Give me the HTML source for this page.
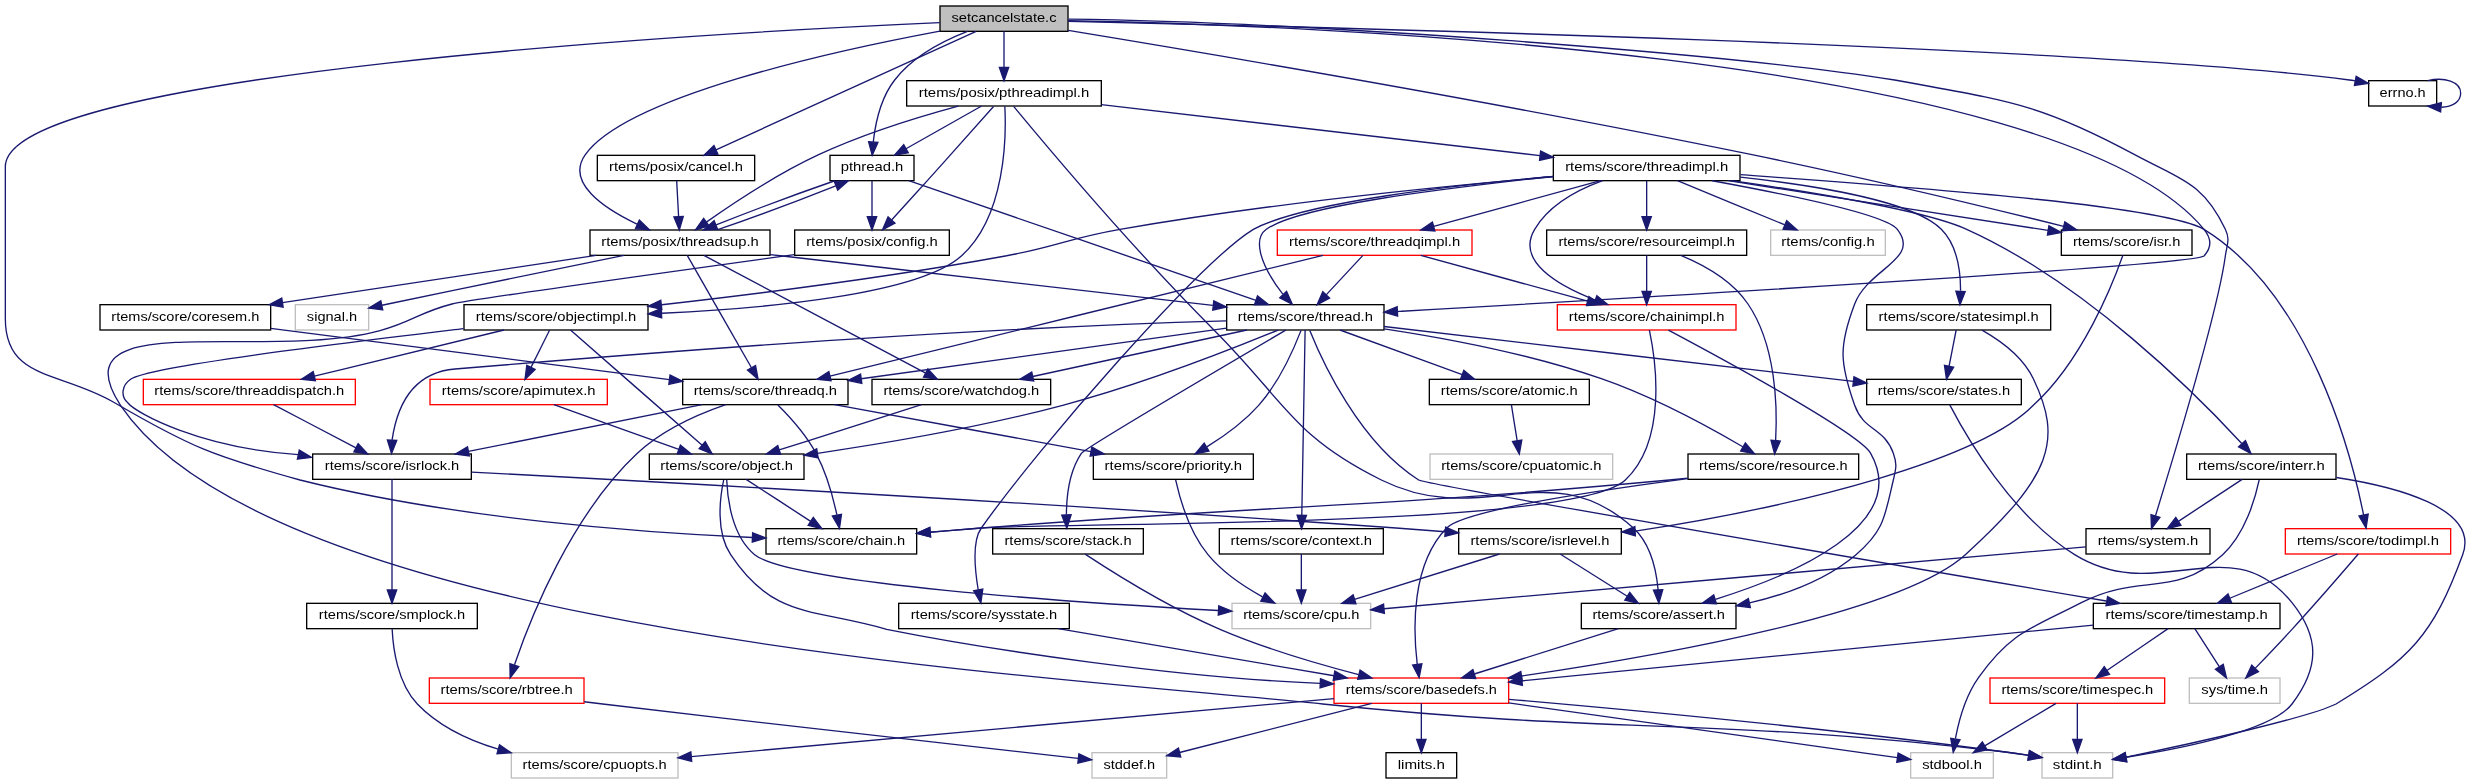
<!DOCTYPE html>
<html lang="en">
<head>
<meta charset="utf-8">
<title>setcancelstate.c include dependency graph</title>
<style>
html,body{margin:0;padding:0;background:#fff;}
body{width:2473px;height:784px;overflow:hidden;}
svg{display:block;will-change:transform;}
.n{stroke-width:1;}
.e{fill:none;stroke:#191970;stroke-width:1;}
.a{fill:#191970;stroke:#191970;stroke-width:1;}
text{font-family:"Liberation Sans",sans-serif;font-size:10.2px;text-anchor:middle;fill:#000;}
</style>
</head>
<body>
<svg width="2473" height="784" viewBox="0 0 1854.75 588">
<rect x="0" y="0" width="1854.75" height="588" fill="#fff"/>
<g id="graph">
<rect class="n" x="705" y="4.5" width="96" height="19" fill="#bfbfbf" stroke="#000"/>
<rect class="n" x="622.5" y="116.5" width="63" height="19" fill="#fff" stroke="#000"/>
<path class="e" d="M725.58,23.61C707.53,30.63 684.78,42.33 671,60C660.59,73.35 656.52,92.47 654.94,106.51"/><polygon class="a" points="658.43,106.79 654.15,116.48 651.46,106.24"/>
<rect class="n" x="442.5" y="172.5" width="135" height="19" fill="#fff" stroke="#000"/>
<path class="e" d="M704.93,23.33C624.98,38.27 470.31,72.22 439,116C424.09,136.85 452.54,156.05 477.74,168.1"/><polygon class="a" points="479.48,165.04 487.15,172.35 476.59,171.42"/>
<rect class="n" x="574.5" y="396.5" width="113" height="19" fill="#fff" stroke="#000"/>
<path class="e" d="M704.72,16.98C539.08,24.41 4,53.9 4,125C4,125 4,125 4,239C4,285.16 45.15,278.25 84.97,301.5C142.88,335.33 159.98,342 225,360C342.1,389.33 482.97,399.55 564.24,403.11"/><polygon class="a" points="564.48,399.62 574.33,403.53 564.19,406.61"/>
<rect class="n" x="920" y="228.5" width="118" height="19" fill="#fff" stroke="#000"/>
<path class="e" d="M801.11,15.55C971.76,18.61 1543.72,38.8 1653,172C1658.64,178.87 1659.07,185.51 1653,192C1644,199.5 1218,223.88 1048.13,233.62"/><polygon class="a" points="1048.21,237.12 1038.05,234.12 1047.86,230.13"/>
<rect class="n" x="1776.5" y="60.5" width="51" height="19" fill="#fff" stroke="#000"/>
<path class="e" d="M801.17,16.02C975.45,19.88 1572.77,34.69 1762,60C1763.46,60.19 1764.94,60.42 1766.43,60.66"/><polygon class="a" points="1767.12,57.23 1776.3,62.52 1765.83,64.11"/>
<rect class="n" x="1564.5" y="396.5" width="93" height="19" fill="#fff" stroke="#000"/>
<path class="e" d="M801.27,14.4C975,16.5 1290,39 1421,60C1503.36,75.37 1527.29,76.18 1601,116C1635.45,134.61 1652.29,136.59 1669,172C1672.79,180.04 1670.18,183.19 1669,192C1663.83,230.7 1630.15,342.71 1616.62,386.83"/><polygon class="a" points="1619.93,387.97 1613.64,396.5 1613.24,385.91"/>
<rect class="n" x="1546" y="172.5" width="98" height="19" fill="#fff" stroke="#000"/>
<path class="e" d="M801.18,22.85C898.42,38.88 1124.98,77.15 1314,116C1398.04,133.27 1492.5,156 1547.7,169.8"/><polygon class="a" points="1546.9,173.21 1557.45,172.27 1548.62,166.42"/>
<rect class="n" x="448" y="116.5" width="118" height="19" fill="#fff" stroke="#000"/>
<path class="e" d="M732.13,23.5C667.08,53.12 602.02,82.74 536.96,112.36"/><polygon class="a" points="535.51,109.17 527.87,116.5 538.42,115.55"/>
<rect class="n" x="680" y="60.5" width="146" height="19" fill="#fff" stroke="#000"/>
<path class="e" d="M753,23.5C753,32.5 753,41.5 753,50.5"/><polygon class="a" points="749.5,50.5 753,60.5 756.5,50.5"/>
<rect class="n" x="596" y="172.5" width="116" height="19" fill="#fff" stroke="#000"/>
<path class="e" d="M654,135.5C654,144.5 654,153.5 654,162.5"/><polygon class="a" points="650.5,162.5 654,172.5 657.5,162.5"/>
<path class="e" d="M626.09,135.56C600.33,144.48 562.56,158.56 537.07,168.68"/><polygon class="a" points="538.21,172 527.63,172.48 535.6,165.5"/>
<path class="e" d="M681.57,135.5C768.37,165.41 855.18,195.33 941.98,225.24"/><polygon class="a" points="940.84,228.55 951.43,228.5 943.12,221.93"/>
<rect class="n" x="1531.5" y="564.5" width="53" height="19" fill="#fff" stroke="#bfbfbf"/>
<path class="e" d="M595.83,190.98C508.23,203.06 351.3,224.88 339,228C314.19,234.29 309.69,241.26 285,248C198.75,271.5 41.25,228.75 90.38,303.98C206.77,475.95 785.5,506.59 992,528C1218.9,551.52 1277.46,537.22 1504,564C1509.6,564.66 1515.51,565.5 1521.29,566.4"/><polygon class="a" points="1522.12,562.99 1531.43,568.06 1521,569.9"/>
<path class="e" d="M537.79,172.48C563.52,163.57 601.29,149.5 626.81,139.36"/><polygon class="a" points="625.69,136.04 636.27,135.56 628.3,142.54"/>
<rect class="n" x="75" y="228.5" width="128" height="19" fill="#fff" stroke="#000"/>
<path class="e" d="M447.06,191.5C368.65,203.34 290.24,215.17 211.82,227.01"/><polygon class="a" points="211.3,223.54 201.94,228.5 212.35,230.47"/>
<rect class="n" x="512" y="284.5" width="124" height="19" fill="#fff" stroke="#000"/>
<path class="e" d="M515.43,191.5C531.49,219.61 547.55,247.71 563.61,275.82"/><polygon class="a" points="560.57,277.56 568.57,284.5 566.65,274.08"/>
<path class="e" d="M577.61,190.91C580.78,191.28 583.92,191.64 587,192C699.99,205.09 831.32,220.13 909.66,229.08"/><polygon class="a" points="910.35,225.64 919.89,230.25 909.56,232.59"/>
<rect class="n" x="654" y="284.5" width="134" height="19" fill="#fff" stroke="#000"/>
<path class="e" d="M527.9,191.5C583.36,220.94 638.81,250.38 694.27,279.81"/><polygon class="a" points="692.63,282.91 703.1,284.5 695.91,276.72"/>
<rect class="n" x="221.5" y="228.5" width="55" height="19" fill="#fff" stroke="#bfbfbf"/>
<path class="e" d="M467.99,191.52C423.89,200.49 352.54,215.08 291,228C289.54,228.31 288.05,228.62 286.55,228.94"/><polygon class="a" points="287.06,232.41 276.56,231.06 285.61,225.56"/>
<path class="e" d="M203,246.24C302.69,259.07 402.39,271.91 502.08,284.74"/><polygon class="a" points="501.64,288.22 512,286.02 502.53,281.27"/>
<path class="e" d="M583.41,303.8C591.99,312.31 604.45,325.95 612,340C619.82,354.57 624.78,372.74 627.67,386.17"/><polygon class="a" points="631.13,385.66 629.62,396.14 624.26,387"/>
<rect class="n" x="234.5" y="340.5" width="119" height="19" fill="#fff" stroke="#000"/>
<path class="e" d="M526.5,303.5C468.1,315.18 409.7,326.86 351.3,338.54"/><polygon class="a" points="350.62,335.1 341.5,340.5 351.99,341.97"/>
<rect class="n" x="820" y="340.5" width="120" height="19" fill="#fff" stroke="#000"/>
<path class="e" d="M625.91,303.5C690.03,315.23 754.14,326.97 818.26,338.7"/><polygon class="a" points="817.62,342.15 828.09,340.5 818.89,335.25"/>
<rect class="n" x="322" y="508.5" width="116" height="19" fill="#fff" stroke="#f00"/>
<path class="e" d="M544.33,303.51C523.77,310.59 496.82,322.4 478,340C428.45,386.32 397.89,463.47 385.87,498.58"/><polygon class="a" points="389.08,500.02 382.61,508.42 382.43,497.82"/>
<rect class="n" x="1094" y="396.5" width="122" height="19" fill="#fff" stroke="#000"/>
<path class="e" d="M353.58,354.08C480.91,360.78 789.01,377.54 1047,396C1058.88,396.85 1071.48,397.83 1083.73,398.82"/><polygon class="a" points="1084.22,395.35 1093.91,399.66 1083.65,402.33"/>
<rect class="n" x="230" y="452.5" width="128" height="19" fill="#fff" stroke="#000"/>
<path class="e" d="M294,359.5C294,387.17 294,414.84 294,442.5"/><polygon class="a" points="290.5,442.5 294,452.5 297.5,442.5"/>
<rect class="n" x="924" y="452.5" width="104" height="19" fill="#fff" stroke="#bfbfbf"/>
<path class="e" d="M1124.63,415.5C1088.39,426.84 1052.15,438.18 1015.91,449.51"/><polygon class="a" points="1014.86,446.17 1006.37,452.5 1016.95,452.86"/>
<rect class="n" x="1186" y="452.5" width="116" height="19" fill="#fff" stroke="#000"/>
<path class="e" d="M1170.1,415.5C1186.88,426.06 1203.66,436.62 1220.44,447.18"/><polygon class="a" points="1218.57,450.14 1228.9,452.5 1222.31,444.21"/>
<rect class="n" x="1000.5" y="508.5" width="131" height="19" fill="#fff" stroke="#f00"/>
<path class="e" d="M1213.8,471.5C1177.78,482.83 1141.76,494.17 1105.73,505.5"/><polygon class="a" points="1104.68,502.16 1096.2,508.5 1106.78,508.84"/>
<path class="e" d="M1131.82,524.47C1217.65,531.89 1372.37,546.29 1504,564C1509.59,564.75 1515.5,565.64 1521.27,566.56"/><polygon class="a" points="1522.11,563.15 1531.41,568.23 1520.97,570.06"/>
<rect class="n" x="383.5" y="564.5" width="125" height="19" fill="#fff" stroke="#bfbfbf"/>
<path class="e" d="M1000.5,523.92C839.82,538.43 679.14,552.94 518.46,567.46"/><polygon class="a" points="518.14,563.97 508.5,568.35 518.77,570.94"/>
<rect class="n" x="819" y="564.5" width="56" height="19" fill="#fff" stroke="#bfbfbf"/>
<path class="e" d="M1028.85,527.5C980.79,539.79 932.74,552.08 884.69,564.36"/><polygon class="a" points="883.82,560.97 875,566.84 885.55,567.76"/>
<rect class="n" x="1433" y="564.5" width="62" height="19" fill="#fff" stroke="#bfbfbf"/>
<path class="e" d="M1131.5,527.22C1228.7,540.89 1325.9,554.57 1423.1,568.25"/><polygon class="a" points="1422.61,571.71 1433,569.64 1423.59,564.78"/>
<rect class="n" x="1039.5" y="564.5" width="53" height="19" fill="#fff" stroke="#000"/>
<path class="e" d="M1066,527.5C1066,536.5 1066,545.5 1066,554.5"/><polygon class="a" points="1062.5,554.5 1066,564.5 1069.5,554.5"/>
<path class="e" d="M294.11,471.83C294.76,485.64 298.03,512.39 313,528C329.09,544.78 351.66,555.3 373.64,561.9"/><polygon class="a" points="374.63,558.55 383.33,564.58 372.76,565.29"/>
<path class="e" d="M881.73,359.88C884.72,373.28 891.92,398.94 906,416C916.98,429.31 932.96,439.99 946.87,447.61"/><polygon class="a" points="948.82,444.67 956.09,452.38 945.6,450.89"/>
<path class="e" d="M438.15,526.32C442.84,526.9 447.5,527.46 452,528C582.7,543.61 737.88,560.94 808.53,568.76"/><polygon class="a" points="809.17,565.31 818.73,569.89 808.4,572.27"/>
<path class="e" d="M920,246.16C828.63,258.79 737.27,271.42 645.9,284.06"/><polygon class="a" points="645.42,280.59 636,285.43 646.38,287.53"/>
<path class="e" d="M919.72,240.6C735,246 540,260.25 341.25,276.75C321,278.48 300,289.5 294.08,329.92"/><polygon class="a" points="297.53,330.29 293.66,340.15 290.54,330.03"/>
<path class="e" d="M975.8,247.78C970.64,261.06 959.49,286.56 944,304C932.97,316.42 917.87,327.25 905.11,335.17"/><polygon class="a" points="906.7,338.29 896.32,340.4 903.12,332.28"/>
<rect class="n" x="1072" y="284.5" width="120" height="19" fill="#fff" stroke="#000"/>
<path class="e" d="M1004.96,247.5C1035.52,258.69 1066.09,269.88 1096.66,281.06"/><polygon class="a" points="1095.45,284.35 1106.04,284.5 1097.86,277.77"/>
<rect class="n" x="914.5" y="396.5" width="123" height="19" fill="#fff" stroke="#000"/>
<path class="e" d="M978.83,247.5C978,293.83 977.18,340.17 976.35,386.5"/><polygon class="a" points="972.85,386.44 976.17,396.5 979.85,386.57"/>
<rect class="n" x="487" y="340.5" width="116" height="19" fill="#fff" stroke="#000"/>
<path class="e" d="M958.61,247.55C925.32,261.21 856.99,288.05 797,304C735.6,320.33 664.18,332.45 613.09,339.98"/><polygon class="a" points="613.55,343.45 603.15,341.42 612.54,336.52"/>
<rect class="n" x="1266" y="340.5" width="128" height="19" fill="#fff" stroke="#000"/>
<path class="e" d="M1038.1,246.59C1083.49,253.46 1147.3,265.41 1201,284C1239.87,297.46 1281.9,320.36 1307.07,335.08"/><polygon class="a" points="1309.03,332.17 1315.85,340.28 1305.47,338.19"/>
<rect class="n" x="744.5" y="396.5" width="113" height="19" fill="#fff" stroke="#000"/>
<path class="e" d="M964.34,247.59C923.88,271.33 813.48,336.31 811,340C801.95,353.48 799.87,372.04 799.81,385.87"/><polygon class="a" points="803.32,386.07 800.12,396.17 796.32,386.28"/>
<rect class="n" x="1400" y="284.5" width="116" height="19" fill="#fff" stroke="#000"/>
<path class="e" d="M1038,244.9C1155.36,258.62 1272.71,272.34 1390.07,286.06"/><polygon class="a" points="1389.66,289.54 1400,287.22 1390.48,282.58"/>
<path class="e" d="M935.23,247.5C881.67,259.13 828.1,270.75 774.54,282.38"/><polygon class="a" points="773.79,278.96 764.77,284.5 775.28,285.8"/>
<rect class="n" x="1570" y="452.5" width="140" height="19" fill="#fff" stroke="#000"/>
<path class="e" d="M982.35,247.8C991.52,270.57 1019.36,331.64 1064,360C1069.47,363.48 1433.21,425.76 1579.78,450.75"/><polygon class="a" points="1580.68,447.35 1589.95,452.48 1579.5,454.25"/>
<rect class="n" x="1072.5" y="340.5" width="137" height="19" fill="#fff" stroke="#bfbfbf"/>
<path class="e" d="M1133.53,303.5C1134.98,312.54 1136.43,321.59 1137.89,330.63"/><polygon class="a" points="1134.43,331.18 1139.47,340.5 1141.34,330.07"/>
<path class="e" d="M976,415.5C976,424.5 976,433.5 976,442.5"/><polygon class="a" points="972.5,442.5 976,452.5 979.5,442.5"/>
<path class="e" d="M559.59,359.5C575.74,370.01 591.88,380.53 608.03,391.04"/><polygon class="a" points="606.12,393.98 616.41,396.5 609.94,388.11"/>
<path class="e" d="M545.02,359.8C545.56,374.07 548.9,402.06 566,416C592.38,437.5 805.7,451.89 913.75,457.87"/><polygon class="a" points="914.08,454.38 923.87,458.42 913.7,461.37"/>
<path class="e" d="M542.76,359.86C539.92,373.24 536.64,398.86 548,416C579.85,464.05 609.58,456.12 665,472C742.5,487.5 885,508.5 990.3,512.47"/><polygon class="a" points="990.05,515.97 1000.2,512.92 990.37,508.97"/>
<path class="e" d="M1265.75,358.65C1261.1,359.13 1256.48,359.59 1252,360C1023.09,381.18 965.2,378.18 736,396C723.62,396.96 710.43,398.05 697.72,399.12"/><polygon class="a" points="697.92,402.62 687.66,399.98 697.33,395.64"/>
<path class="e" d="M1265.71,358.93C1197.42,367.95 1097.56,383.11 1085,396C1058.38,423.32 1059.74,471.76 1062.93,498.31"/><polygon class="a" points="1066.4,497.83 1064.34,508.22 1059.47,498.81"/>
<path class="e" d="M813.83,415.62C834.42,429.15 876.45,455.52 915,472C948.79,486.44 988.69,498.12 1018.98,505.95"/><polygon class="a" points="1020.04,502.61 1028.87,508.46 1018.31,509.39"/>
<path class="e" d="M1462.33,303.69C1474.04,326.21 1508.63,386.72 1556,416C1619.1,455.01 1672.54,394.16 1719,452C1740.15,478.33 1739.42,501.09 1719,528C1704.01,547.76 1637.28,561.19 1594.57,567.94"/><polygon class="a" points="1594.95,571.42 1584.54,569.47 1593.89,564.5"/>
<path class="e" d="M691.14,303.5C655.56,314.82 619.97,326.15 584.38,337.47"/><polygon class="a" points="583.32,334.13 574.86,340.5 585.45,340.81"/>
<path class="e" d="M1570,468.83C1427.15,482.77 1284.3,496.7 1141.45,510.64"/><polygon class="a" points="1141.11,507.15 1131.5,511.61 1141.79,514.12"/>
<rect class="n" x="1642" y="508.5" width="68" height="19" fill="#fff" stroke="#bfbfbf"/>
<path class="e" d="M1646.11,471.5C1652.23,481.03 1658.36,490.56 1664.49,500.09"/><polygon class="a" points="1661.54,501.98 1669.89,508.5 1667.43,498.2"/>
<rect class="n" x="1492.5" y="508.5" width="131" height="19" fill="#fff" stroke="#f00"/>
<path class="e" d="M1626.09,471.5C1610.78,481.95 1595.47,492.41 1580.17,502.86"/><polygon class="a" points="1578.19,499.97 1571.91,508.5 1582.14,505.75"/>
<path class="e" d="M1558,527.5C1558,536.5 1558,545.5 1558,554.5"/><polygon class="a" points="1554.5,554.5 1558,564.5 1561.5,554.5"/>
<path class="e" d="M1542.05,527.5C1524.21,538.13 1506.37,548.76 1488.54,559.38"/><polygon class="a" points="1486.74,556.37 1479.95,564.5 1490.33,562.39"/>
<path class="e" d="M1820.78,60.43C1833.31,57.73 1845.5,60.92 1845.5,70C1845.5,76.52 1839.2,80.01 1831.01,80.45"/><polygon class="a" points="1830.44,83.92 1820.78,79.57 1831.04,76.94"/>
<path class="e" d="M1564.5,410.1C1388.99,425.58 1213.47,441.06 1037.96,456.54"/><polygon class="a" points="1037.65,453.05 1028,457.41 1038.27,460.02"/>
<path class="e" d="M1592.18,191.48C1584.52,213.08 1561.8,270.52 1524.97,303.98C1485,345 1350,379.5 1226.47,398.4"/><polygon class="a" points="1226.15,394.91 1216.35,398.92 1226.52,401.91"/>
<path class="e" d="M507.51,135.5C507.99,144.51 508.47,153.51 508.96,162.52"/><polygon class="a" points="505.46,162.7 509.49,172.5 512.45,162.33"/>
<path class="e" d="M736.21,79.5C717.3,90.19 698.4,100.89 679.5,111.58"/><polygon class="a" points="677.77,108.53 670.79,116.5 681.22,114.63"/>
<path class="e" d="M745.15,79.86C734.03,92.39 713.03,116.01 695,136C686.31,145.64 676.53,156.38 668.7,164.95"/><polygon class="a" points="671.22,167.38 661.89,172.4 666.05,162.66"/>
<path class="e" d="M718.69,79.57C690.01,87.33 648.38,99.99 614,116C583.06,130.41 550.1,152.25 529.77,166.58"/><polygon class="a" points="531.8,169.43 521.62,172.39 527.73,163.73"/>
<path class="e" d="M760.24,79.78C782.08,106.13 849.6,186.49 911,248C963.7,300.79 969.14,326.92 1036,360C1112.64,397.92 1161.7,338.51 1225,396C1237.9,407.72 1242.23,427.65 1243.59,442.37"/><polygon class="a" points="1247.09,442.2 1244.15,452.38 1240.1,442.58"/>
<rect class="n" x="348" y="228.5" width="138" height="19" fill="#fff" stroke="#000"/>
<path class="e" d="M753.63,79.63C754.75,101.99 754.37,162.16 721,192C688.74,220.85 575.3,231.2 496.52,234.92"/><polygon class="a" points="496.27,238.43 486.12,235.38 495.96,231.44"/>
<rect class="n" x="1165" y="116.5" width="140" height="19" fill="#fff" stroke="#000"/>
<path class="e" d="M826,78.48C935.69,91.23 1045.38,103.97 1155.07,116.71"/><polygon class="a" points="1154.67,120.19 1165,117.87 1155.47,113.23"/>
<path class="e" d="M347.7,246.45C262.5,256.73 112.5,274.5 98.25,284.25C91.5,288.75 90,297 96,302.25C102,309.75 150,336 223.73,340.95"/><polygon class="a" points="223.05,344.39 233.55,342.98 224.47,337.53"/>
<path class="e" d="M427.86,247.5C460.78,276.31 493.7,305.11 526.62,333.92"/><polygon class="a" points="524.31,336.55 534.14,340.5 528.93,331.28"/>
<rect class="n" x="322.5" y="284.5" width="133" height="19" fill="#fff" stroke="#f00"/>
<path class="e" d="M412.25,247.5C407.57,256.85 402.9,266.21 398.22,275.56"/><polygon class="a" points="395.09,273.99 393.75,284.5 401.35,277.12"/>
<rect class="n" x="107.5" y="284.5" width="159" height="19" fill="#fff" stroke="#f00"/>
<path class="e" d="M377.98,247.5C330.57,259.04 283.15,270.59 235.73,282.13"/><polygon class="a" points="234.9,278.73 226.02,284.5 236.56,285.54"/>
<path class="e" d="M415.46,303.5C446.68,314.71 477.91,325.91 509.13,337.12"/><polygon class="a" points="507.94,340.42 518.54,340.5 510.31,333.83"/>
<path class="e" d="M205.15,303.5C225.76,314.29 246.38,325.08 266.99,335.86"/><polygon class="a" points="265.37,338.97 275.85,340.5 268.61,332.76"/>
<path class="e" d="M1284.22,135.55C1336.96,145.2 1414.32,161 1423,172C1440.75,194.51 1401.19,201.21 1391,228C1379,259.57 1379.77,272.15 1391,304C1397.83,323.38 1413.17,320.62 1420,340C1422.96,348.38 1422.04,351.35 1420,360C1413.61,387.08 1413.26,398.05 1392,416C1369.61,434.9 1339.43,445.87 1312.15,452.22"/><polygon class="a" points="1312.77,455.67 1302.26,454.37 1311.29,448.83"/>
<path class="e" d="M1164.9,132.23C1091.25,140.62 975,153.38 949.5,172.12C940.5,178.73 943.5,196.5 962.1,220.65"/><polygon class="a" points="964.88,218.5 969.24,228.16 959.81,223.33"/>
<path class="e" d="M1296.07,135.5C1376.09,147.95 1456.1,160.39 1536.12,172.84"/><polygon class="a" points="1535.58,176.3 1546,174.38 1536.66,169.38"/>
<path class="e" d="M1164.73,132.55C1085.47,139.37 952.9,152.51 840,172C801.33,178.68 792.6,184.95 754,192C666.32,208.01 564.83,220.79 496.32,228.58"/><polygon class="a" points="496.37,232.1 486.04,229.74 495.59,225.14"/>
<rect class="n" x="1168" y="228.5" width="134" height="19" fill="#fff" stroke="#f00"/>
<path class="e" d="M1202.01,135.56C1183.54,142.23 1162.05,153.55 1151,172C1136.79,195.74 1168.09,213.98 1196.44,225.01"/><polygon class="a" points="1197.68,221.74 1205.87,228.47 1195.27,228.31"/>
<rect class="n" x="1640" y="340.5" width="112" height="19" fill="#fff" stroke="#000"/>
<path class="e" d="M1299.02,135.52C1359.13,144.15 1444.27,158.16 1475,172C1564.21,212.18 1648.3,296.88 1681.3,332.58"/><polygon class="a" points="1684.07,330.43 1688.22,340.17 1678.9,335.15"/>
<rect class="n" x="1160" y="172.5" width="150" height="19" fill="#fff" stroke="#000"/>
<path class="e" d="M1235,135.5C1235,144.5 1235,153.5 1235,162.5"/><polygon class="a" points="1231.5,162.5 1235,172.5 1238.5,162.5"/>
<rect class="n" x="1400" y="228.5" width="138" height="19" fill="#fff" stroke="#000"/>
<path class="e" d="M1305.23,132.9C1361.75,139.13 1435.1,151.03 1456,172C1467.92,183.96 1470.45,203.57 1470.43,218.13"/><polygon class="a" points="1473.91,218.63 1470,228.48 1466.92,218.34"/>
<rect class="n" x="674" y="452.5" width="128" height="19" fill="#fff" stroke="#000"/>
<path class="e" d="M1164.97,132.28C1090.35,138.84 977.85,151.73 940,172C900,196.5 780,333.75 736,396C729,405.75 731.44,428.96 733.65,442.31"/><polygon class="a" points="737.11,441.73 735.64,452.23 730.24,443.11"/>
<rect class="n" x="958" y="172.5" width="146" height="19" fill="#fff" stroke="#f00"/>
<path class="e" d="M1200.39,135.5C1158.68,146.95 1116.96,158.4 1075.25,169.85"/><polygon class="a" points="1074.32,166.48 1065.61,172.5 1076.18,173.23"/>
<rect class="n" x="1714" y="396.5" width="124" height="19" fill="#fff" stroke="#f00"/>
<path class="e" d="M1305.45,130.95C1417.5,139.5 1620,153 1653,172C1732.45,221.08 1763.41,340.07 1772.69,386.25"/><polygon class="a" points="1776.13,385.63 1774.55,396.1 1769.25,386.93"/>
<rect class="n" x="1328" y="172.5" width="86" height="19" fill="#fff" stroke="#bfbfbf"/>
<path class="e" d="M1258.07,135.5C1284.94,146.56 1311.81,157.63 1338.68,168.69"/><polygon class="a" points="1337.35,171.93 1347.93,172.5 1340.02,165.45"/>
<path class="e" d="M1237.04,247.61C1241.76,269.94 1250.73,330.03 1219,360C1179.88,396.95 789.64,391.7 736,396C723.62,396.99 710.43,398.09 697.72,399.17"/><polygon class="a" points="697.92,402.66 687.66,400.03 697.33,395.69"/>
<path class="e" d="M1251.32,247.62C1291.85,269.18 1394.41,324.82 1403,340C1433.61,394.12 1343.41,431.77 1286.57,449.48"/><polygon class="a" points="1287.31,452.92 1276.73,452.46 1285.29,446.22"/>
<path class="e" d="M1752.3,358.12C1796.25,364.88 1860,381 1847,416C1824.51,477.28 1807.73,494.01 1752,528C1732.5,537.75 1650,556.5 1594.73,567.83"/><polygon class="a" points="1593.86,564.42 1584.68,569.7 1595.15,571.31"/>
<path class="e" d="M1694.4,359.9C1691.43,373.8 1683.8,400.68 1667,416C1630.23,449.52 1605.18,429.11 1561,452C1523.43,471.47 1508.6,473.57 1484,508C1474.24,521.66 1469.15,540.2 1466.56,553.98"/><polygon class="a" points="1469.95,554.91 1464.92,564.23 1463.04,553.8"/>
<path class="e" d="M1681.58,359.5C1665.64,370 1649.71,380.5 1633.77,391"/><polygon class="a" points="1631.84,388.07 1625.42,396.5 1635.7,393.92"/>
<path class="e" d="M1260.62,191.55C1277.66,198.61 1299.04,210.36 1311,228C1332.12,259.13 1333.12,305.02 1331.73,330.4"/><polygon class="a" points="1335.21,330.78 1330.98,340.49 1328.23,330.26"/>
<path class="e" d="M1235,191.5C1235,200.5 1235,209.5 1235,218.5"/><polygon class="a" points="1231.5,218.5 1235,228.5 1238.5,218.5"/>
<path class="e" d="M1486.5,247.54C1499.79,255.08 1517.08,267.47 1525,284C1547.16,330.24 1538.67,357.28 1474,416C1425.64,459.91 1245.36,491.8 1141.34,507.01"/><polygon class="a" points="1141.61,510.51 1131.21,508.47 1140.61,503.58"/>
<path class="e" d="M1467.13,247.5C1465.35,256.56 1463.57,265.63 1461.79,274.69"/><polygon class="a" points="1458.36,274.01 1459.87,284.5 1465.23,275.37"/>
<path class="e" d="M793.64,471.5C862.6,483.27 931.55,495.04 1000.5,506.82"/><polygon class="a" points="999.91,510.27 1010.36,508.5 1001.09,503.36"/>
<path class="e" d="M992.24,191.5C868.98,221.71 745.73,251.91 622.47,282.12"/><polygon class="a" points="621.64,278.72 612.76,284.5 623.31,285.52"/>
<path class="e" d="M1022.18,191.5C1012.99,201.39 1003.81,211.28 994.62,221.17"/><polygon class="a" points="992.06,218.79 987.82,228.5 997.19,223.56"/>
<path class="e" d="M1065.61,191.5C1107.32,202.95 1149.04,214.4 1190.75,225.85"/><polygon class="a" points="1189.82,229.23 1200.39,228.5 1191.68,222.48"/>
<path class="e" d="M1752.93,415.5C1726.06,426.56 1699.19,437.63 1672.32,448.69"/><polygon class="a" points="1670.98,445.45 1663.07,452.5 1673.65,451.93"/>
<path class="e" d="M1768.74,415.52C1758.01,428.03 1737.24,452.07 1719,472C1710.04,481.78 1699.79,492.53 1691.54,501.07"/><polygon class="a" points="1693.83,503.74 1684.35,508.48 1688.81,498.86"/>
</g>
<g id="labels" style="opacity:0.999">
<text x="753" y="16.5" textLength="78.81" lengthAdjust="spacingAndGlyphs">setcancelstate.c</text>
<text x="654" y="128.5" textLength="46.94" lengthAdjust="spacingAndGlyphs">pthread.h</text>
<text x="510" y="184.5" textLength="118.13" lengthAdjust="spacingAndGlyphs">rtems/posix/threadsup.h</text>
<text x="631" y="408.5" textLength="95.84" lengthAdjust="spacingAndGlyphs">rtems/score/chain.h</text>
<text x="979" y="240.5" textLength="101.35" lengthAdjust="spacingAndGlyphs">rtems/score/thread.h</text>
<text x="1802" y="72.5" textLength="34.55" lengthAdjust="spacingAndGlyphs">errno.h</text>
<text x="1611" y="408.5" textLength="75.41" lengthAdjust="spacingAndGlyphs">rtems/system.h</text>
<text x="1595" y="184.5" textLength="80.5" lengthAdjust="spacingAndGlyphs">rtems/score/isr.h</text>
<text x="507" y="128.5" textLength="100.48" lengthAdjust="spacingAndGlyphs">rtems/posix/cancel.h</text>
<text x="753" y="72.5" textLength="127.87" lengthAdjust="spacingAndGlyphs">rtems/posix/pthreadimpl.h</text>
<text x="654" y="184.5" textLength="98.75" lengthAdjust="spacingAndGlyphs">rtems/posix/config.h</text>
<text x="1558" y="576.5" textLength="36.68" lengthAdjust="spacingAndGlyphs">stdint.h</text>
<text x="139" y="240.5" textLength="110.98" lengthAdjust="spacingAndGlyphs">rtems/score/coresem.h</text>
<text x="574" y="296.5" textLength="107.48" lengthAdjust="spacingAndGlyphs">rtems/score/threadq.h</text>
<text x="721" y="296.5" textLength="116.87" lengthAdjust="spacingAndGlyphs">rtems/score/watchdog.h</text>
<text x="249" y="240.5" textLength="37.72" lengthAdjust="spacingAndGlyphs">signal.h</text>
<text x="294" y="352.5" textLength="100.86" lengthAdjust="spacingAndGlyphs">rtems/score/isrlock.h</text>
<text x="880" y="352.5" textLength="103.15" lengthAdjust="spacingAndGlyphs">rtems/score/priority.h</text>
<text x="380" y="520.5" textLength="99.23" lengthAdjust="spacingAndGlyphs">rtems/score/rbtree.h</text>
<text x="1155" y="408.5" textLength="104.33" lengthAdjust="spacingAndGlyphs">rtems/score/isrlevel.h</text>
<text x="294" y="464.5" textLength="109.74" lengthAdjust="spacingAndGlyphs">rtems/score/smplock.h</text>
<text x="976" y="464.5" textLength="87.26" lengthAdjust="spacingAndGlyphs">rtems/score/cpu.h</text>
<text x="1244" y="464.5" textLength="99.37" lengthAdjust="spacingAndGlyphs">rtems/score/assert.h</text>
<text x="1066" y="520.5" textLength="113.21" lengthAdjust="spacingAndGlyphs">rtems/score/basedefs.h</text>
<text x="446" y="576.5" textLength="108.09" lengthAdjust="spacingAndGlyphs">rtems/score/cpuopts.h</text>
<text x="847" y="576.5" textLength="38.87" lengthAdjust="spacingAndGlyphs">stddef.h</text>
<text x="1464" y="576.5" textLength="44.72" lengthAdjust="spacingAndGlyphs">stdbool.h</text>
<text x="1066" y="576.5" textLength="35.42" lengthAdjust="spacingAndGlyphs">limits.h</text>
<text x="1132" y="296.5" textLength="102.7" lengthAdjust="spacingAndGlyphs">rtems/score/atomic.h</text>
<text x="976" y="408.5" textLength="106.07" lengthAdjust="spacingAndGlyphs">rtems/score/context.h</text>
<text x="545" y="352.5" textLength="99.45" lengthAdjust="spacingAndGlyphs">rtems/score/object.h</text>
<text x="1330" y="352.5" textLength="111.46" lengthAdjust="spacingAndGlyphs">rtems/score/resource.h</text>
<text x="801" y="408.5" textLength="95.33" lengthAdjust="spacingAndGlyphs">rtems/score/stack.h</text>
<text x="1458" y="296.5" textLength="99.18" lengthAdjust="spacingAndGlyphs">rtems/score/states.h</text>
<text x="1640" y="464.5" textLength="121.76" lengthAdjust="spacingAndGlyphs">rtems/score/timestamp.h</text>
<text x="1141" y="352.5" textLength="120.24" lengthAdjust="spacingAndGlyphs">rtems/score/cpuatomic.h</text>
<text x="1676" y="520.5" textLength="49.98" lengthAdjust="spacingAndGlyphs">sys/time.h</text>
<text x="1558" y="520.5" textLength="113.9" lengthAdjust="spacingAndGlyphs">rtems/score/timespec.h</text>
<text x="417" y="240.5" textLength="120.33" lengthAdjust="spacingAndGlyphs">rtems/score/objectimpl.h</text>
<text x="1235" y="128.5" textLength="122.23" lengthAdjust="spacingAndGlyphs">rtems/score/threadimpl.h</text>
<text x="389" y="296.5" textLength="115.2" lengthAdjust="spacingAndGlyphs">rtems/score/apimutex.h</text>
<text x="187" y="296.5" textLength="142.42" lengthAdjust="spacingAndGlyphs">rtems/score/threaddispatch.h</text>
<text x="1235" y="240.5" textLength="116.72" lengthAdjust="spacingAndGlyphs">rtems/score/chainimpl.h</text>
<text x="1696" y="352.5" textLength="95.11" lengthAdjust="spacingAndGlyphs">rtems/score/interr.h</text>
<text x="1235" y="184.5" textLength="132.34" lengthAdjust="spacingAndGlyphs">rtems/score/resourceimpl.h</text>
<text x="1469" y="240.5" textLength="120.06" lengthAdjust="spacingAndGlyphs">rtems/score/statesimpl.h</text>
<text x="738" y="464.5" textLength="109.91" lengthAdjust="spacingAndGlyphs">rtems/score/sysstate.h</text>
<text x="1031" y="184.5" textLength="128.36" lengthAdjust="spacingAndGlyphs">rtems/score/threadqimpl.h</text>
<text x="1776" y="408.5" textLength="106.41" lengthAdjust="spacingAndGlyphs">rtems/score/todimpl.h</text>
<text x="1371" y="184.5" textLength="70.06" lengthAdjust="spacingAndGlyphs">rtems/config.h</text>
</g>
</svg>
</body>
</html>
